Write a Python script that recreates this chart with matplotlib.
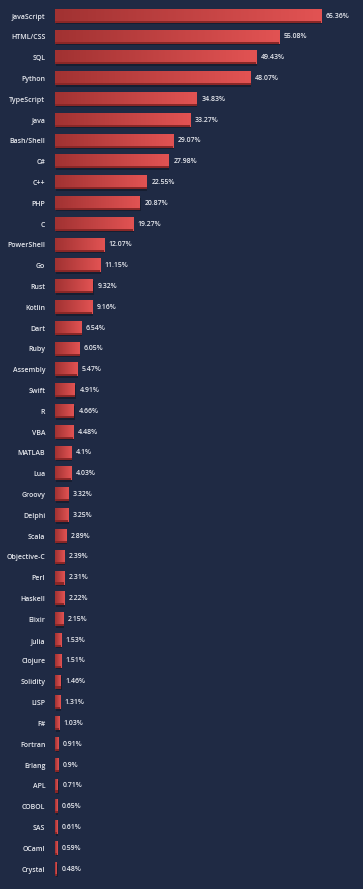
import matplotlib
matplotlib.use("Agg")
import matplotlib.pyplot as plt
from matplotlib.colors import LinearSegmentedColormap
import numpy as np

plt.rcParams["font.family"] = ["Open Sans", "DejaVu Sans"]

languages = ["JavaScript", "HTML/CSS", "SQL", "Python", "TypeScript", "Java",
             "Bash/Shell", "C#", "C++", "PHP", "C", "PowerShell", "Go", "Rust",
             "Kotlin", "Dart", "Ruby", "Assembly", "Swift", "R", "VBA", "MATLAB",
             "Lua", "Groovy", "Delphi", "Scala", "Objective-C", "Perl", "Haskell",
             "Elixir", "Julia", "Clojure", "Solidity", "LISP", "F#", "Fortran",
             "Erlang", "APL", "COBOL", "SAS", "OCaml", "Crystal"]
share = [65.36, 55.08, 49.43, 48.07, 34.83, 33.27, 29.07, 27.98, 22.55, 20.87,
         19.27, 12.07, 11.15, 9.32, 9.16, 6.54, 6.05, 5.47, 4.91, 4.66, 4.48,
         4.1, 4.03, 3.32, 3.25, 2.89, 2.39, 2.31, 2.22, 2.15, 1.53, 1.51, 1.46,
         1.31, 1.03, 0.91, 0.9, 0.71, 0.65, 0.61, 0.59, 0.48]

bg = "#1f2a44"
txt = "#e6e8ee"
grad = LinearSegmentedColormap.from_list("bar", ["#a13232", "#e25353"])

fig = plt.figure(figsize=(3.63, 8.89), dpi=100, facecolor=bg)
ax = fig.add_axes([55 / 363, 0, 1 - 55 / 363, 1], facecolor=bg)

h = 0.65
g = np.linspace(0, 1, 256).reshape(1, -1)
for i, v in enumerate(share):
    # shadow under the bar
    ax.barh(i + 0.07, v, height=h, left=0.15, color="#141b2d", alpha=0.8, zorder=1)
    ax.imshow(g, cmap=grad, extent=[0, v, i + h / 2, i - h / 2],
              aspect="auto", zorder=2, interpolation="bilinear")
    # darker bottom edge
    ax.barh(i + h / 2 - 0.05, v, height=0.1, color="#8a2727", zorder=3)
    ax.text(v + 1.1, i, f"{v:g}%", va="center", ha="left", color=txt,
            fontsize=5, fontweight="semibold", zorder=4)

ax.set_xlim(0, (363 - 55) / 4.07)
ax.set_ylim(41.96, -0.77)
ax.set_yticks(range(len(languages)))
ax.set_yticklabels(languages, color=txt, fontsize=5, fontweight="semibold")
ax.tick_params(axis="y", length=0, pad=7)
ax.set_xticks([])
for s in ax.spines.values():
    s.set_visible(False)

fig.savefig("out.png", dpi=100, facecolor=bg)
